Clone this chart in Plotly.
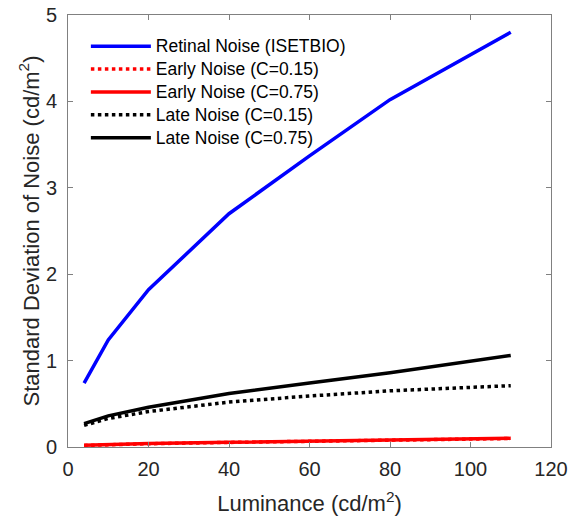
import plotly.graph_objects as go

luminance = [4, 10, 20, 40, 60, 80, 110]
retinal = [0.74, 1.24, 1.82, 2.70, 3.37, 4.02, 4.80]
early_015 = [0.018, 0.028, 0.038, 0.053, 0.068, 0.078, 0.098]
early_075 = [0.02, 0.03, 0.04, 0.055, 0.07, 0.08, 0.10]
late_015 = [0.25, 0.33, 0.41, 0.52, 0.59, 0.65, 0.71]
late_075 = [0.27, 0.36, 0.46, 0.62, 0.74, 0.86, 1.06]
names = ["Retinal Noise (ISETBIO)", "Early Noise (C=0.15)", "Early Noise (C=0.75)",
         "Late Noise (C=0.15)", "Late Noise (C=0.75)"]


def lbl(s):
    return "<span style='font-size:17.5px'>" + s + "</span>"


fig = go.Figure()
fig.add_trace(go.Scatter(x=luminance, y=retinal, mode="lines", name=lbl(names[0]),
                         line=dict(color="#0000ff", width=3.5)))
fig.add_trace(go.Scatter(x=luminance, y=early_015, mode="lines", name=lbl(names[1]),
                         line=dict(color="#ff0000", width=3.5, dash="dot")))
fig.add_trace(go.Scatter(x=luminance, y=early_075, mode="lines", name=lbl(names[2]),
                         line=dict(color="#ff0000", width=3.5)))
fig.add_trace(go.Scatter(x=luminance, y=late_015, mode="lines", name=lbl(names[3]),
                         line=dict(color="#000000", width=3.5, dash="dot")))
fig.add_trace(go.Scatter(x=luminance, y=late_075, mode="lines", name=lbl(names[4]),
                         line=dict(color="#000000", width=3.5)))

axis_common = dict(showgrid=False, zeroline=False, showline=True, linecolor="#808080", linewidth=1,
                   mirror="ticks", ticks="inside", ticklen=5, tickcolor="#808080",
                   tickfont=dict(size=20, color="#262626"), automargin=False)

fig.update_layout(
    width=569, height=518,
    margin=dict(l=68, r=18, t=15, b=71),
    paper_bgcolor="white", plot_bgcolor="white",
    font=dict(family="Liberation Sans, Arial, sans-serif", color="#262626"),
    showlegend=True,
    legend=dict(x=0.037, y=0.966, xanchor="left", yanchor="top", bgcolor="rgba(255,255,255,0)",
                font=dict(size=15.3, color="#000000"), tracegroupgap=0, itemwidth=60),
    xaxis=dict(range=[0, 120], tickvals=[0, 20, 40, 60, 80, 100, 120], ticklabelstandoff=4,
               title=dict(text="Luminance (cd/m<sup>2</sup>)", font=dict(size=22, color="#262626"), standoff=16),
               **axis_common),
    yaxis=dict(range=[0, 5], tickvals=[0, 1, 2, 3, 4, 5], ticklabelstandoff=6,
               title=dict(text="Standard Deviation of Noise (cd/m<sup>2</sup>)", font=dict(size=22, color="#262626"), standoff=0),
               **axis_common),
)

fig.write_html("out.html")
